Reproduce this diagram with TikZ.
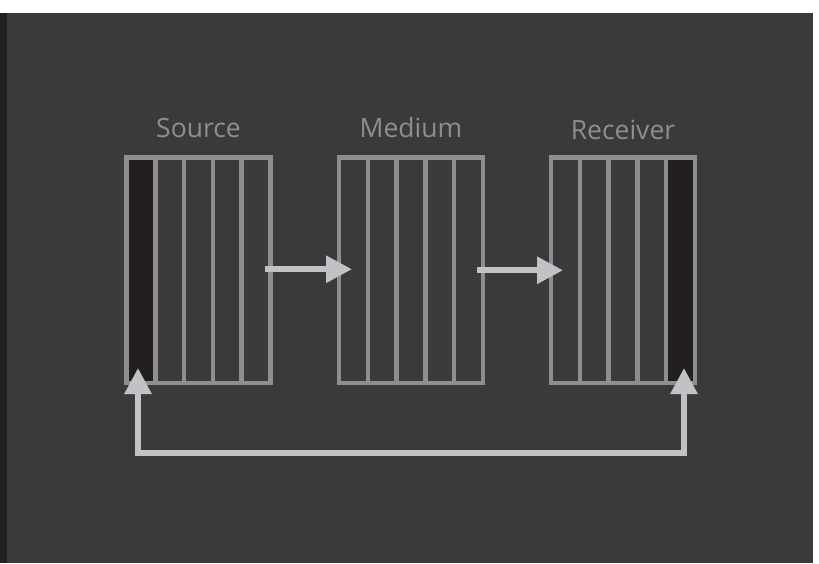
\documentclass[tikz,border=0pt]{standalone}
\usepackage{fontspec}
\setmainfont{Open Sans}
\usetikzlibrary{arrows.meta}
\definecolor{bgdark}{HTML}{3A3A3A}
\definecolor{stripc}{HTML}{1E2124}
\definecolor{boxc}{HTML}{8E8E92}
\definecolor{arrc}{HTML}{C2C2C6}
\definecolor{fillc}{HTML}{231F20}
\begin{document}
\begin{tikzpicture}[x=1pt,y=-1pt,
  stack/.style={draw=boxc,line width=4.5pt,minimum width=144pt,minimum height=225.5pt,inner sep=0pt,outer sep=0pt},
  lbl/.style={text=boxc,font=\fontsize{26.5}{26}\selectfont,anchor=base},
  flow/.style={draw=arrc,line width=6pt,-{Triangle[length=26pt,width=26pt]}},
  loop/.style={draw=arrc,line width=6pt,{Triangle[length=26pt,width=26pt]}-{Triangle[length=26pt,width=26pt]}}
]
\useasboundingbox (0,0) rectangle (819,563);
\fill[white] (0,0) rectangle (819,563);
\fill[bgdark] (7,13) rectangle (813,563);
\fill[stripc] (0,13) rectangle (7,563);
% boxes
\fill[fillc] (126.5,157.5) rectangle (155.3,383);
\fill[fillc] (665.7,157.5) rectangle (694.5,383);
\node[stack] (src) at (198.5,270.25) {};
\node[stack] (med) at (411,270.25) {};
\node[stack] (rcv) at (623,270.25) {};
\foreach \b in {src,med,rcv}{
  \foreach \i in {1,2,3,4}{
    \draw[boxc,line width=4.5pt] ([xshift=\i*28.8pt]\b.north west) -- ([xshift=\i*28.8pt]\b.south west);
  }
}
% labels
\node[lbl] (lsrc) at (198.5,137) {Source};
\node[lbl] (lmed) at (411,137) {Medium};
\node[lbl] (lrcv) at (623,139) {Receiver};
% flow arrows
\draw[flow] ([xshift=-6pt,yshift=1pt]src.east) -- ([xshift=13pt,yshift=1pt]med.west);
\draw[flow] ([xshift=-6pt,yshift=0pt]med.east) -- ([xshift=12pt,yshift=0pt]rcv.west);
% feedback loop
\coordinate (ltip) at (138,368);
\coordinate (lcorner) at (138,453);
\coordinate (rcorner) at (684,453);
\coordinate (rtip) at (684,368);
\draw[loop] (ltip) -- (lcorner) -- (rcorner) -- (rtip);
\end{tikzpicture}
\end{document}
